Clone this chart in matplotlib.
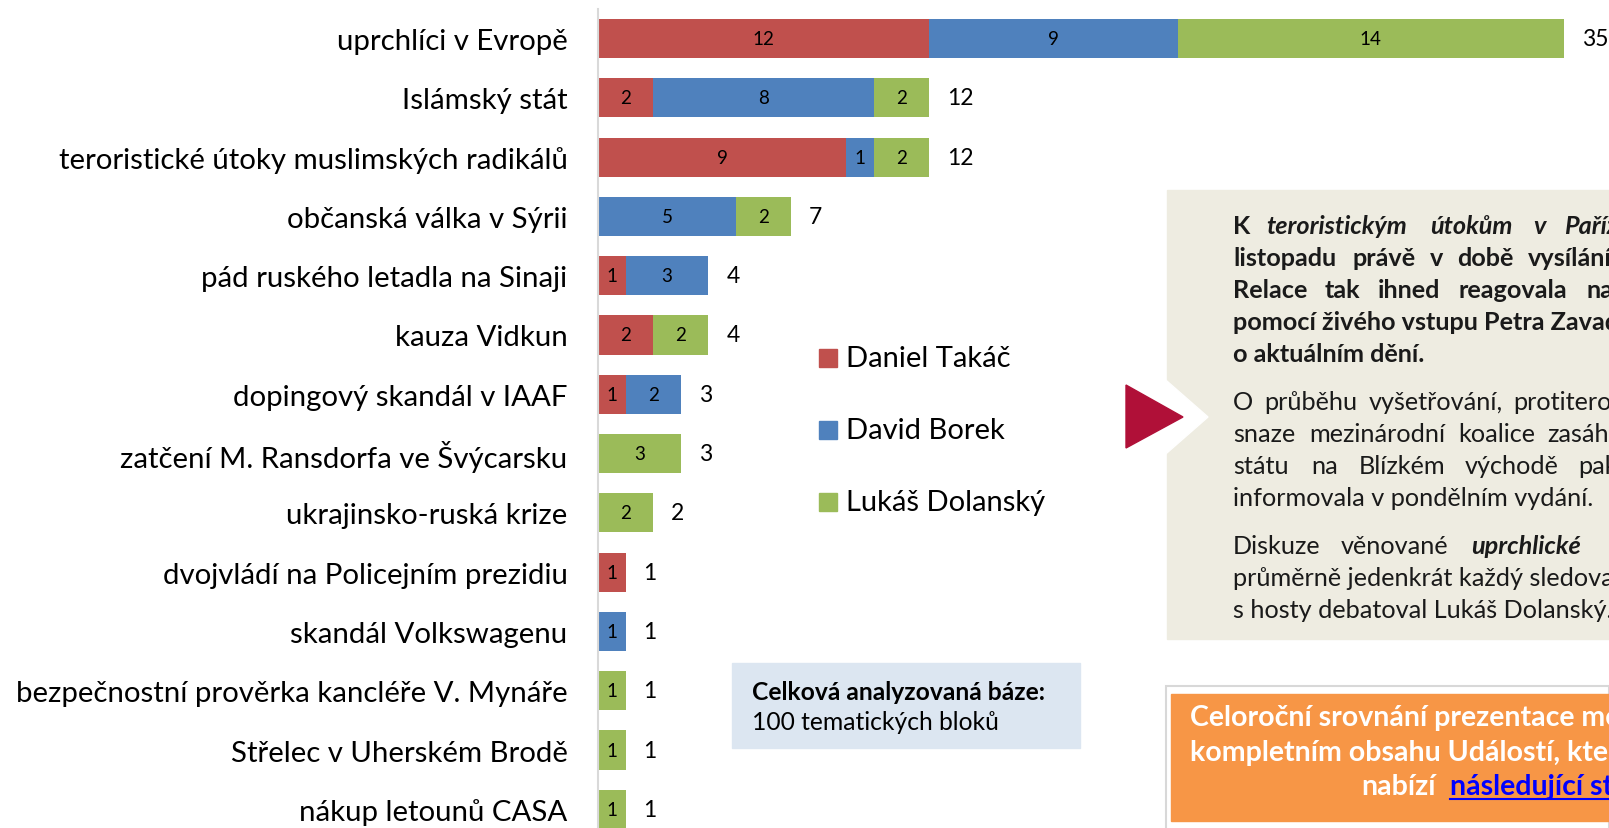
import matplotlib
matplotlib.use("Agg")
import matplotlib.pyplot as plt
from matplotlib.patches import Rectangle, Polygon
from matplotlib.lines import Line2D
import numpy as np

plt.rcParams['font.family'] = ['Lato', 'DejaVu Sans']

# data
topics = [
    "uprchlíci v Evropě",
    "Islámský stát",
    "teroristické útoky muslimských radikálů",
    "občanská válka v Sýrii",
    "pád ruského letadla na Sinaji",
    "kauza Vidkun",
    "dopingový skandál v IAAF",
    "zatčení M. Ransdorfa ve Švýcarsku",
    "ukrajinsko-ruská krize",
    "dvojvládí na Policejním prezidiu",
    "skandál Volkswagenu",
    "bezpečnostní prověrka kancléře V. Mynáře",
    "Střelec v Uherském Brodě",
    "nákup letounů CASA",
]
names = ["Daniel Takáč", "David Borek", "Lukáš Dolanský"]
takac = [12, 2, 9, 0, 1, 2, 1, 0, 0, 1, 0, 0, 0, 0]
borek = [9, 8, 1, 5, 3, 0, 2, 0, 0, 0, 1, 0, 0, 0]
dolansky = [14, 2, 2, 2, 0, 2, 0, 3, 2, 0, 0, 1, 1, 1]
colors = ["#C0504D", "#4F81BD", "#9BBB59"]

W, H = 1609, 829


def fx(x):
    return x / W


def fy(y):
    return 1 - y / H


fig = plt.figure(figsize=(W / 100, H / 100), dpi=100)

# chart area in pixels
ax_left, ax_top, ax_bottom = 598, 9.85, 840.0
ax = fig.add_axes([fx(ax_left), fy(ax_bottom), (W - ax_left) / W, (ax_bottom - ax_top) / H])
ax.patch.set_visible(False)

series = [takac, borek, dolansky]
ypos = np.arange(len(topics))
left = np.zeros(len(topics))
for vals, col in zip(series, colors):
    vals = np.array(vals)
    ax.barh(ypos, vals, left=left, height=0.66, color=col, zorder=2)
    for y, v, l in zip(ypos, vals, left):
        if v > 0:
            ax.text(l + v / 2, y, str(v), ha='center', va='center', fontsize=13.5, color='black', zorder=3)
    left = left + vals

totals = left
for y, t in zip(ypos, totals):
    ax.text(t + 0.65, y, str(int(t)), ha='left', va='center', fontsize=16.5, color='black')

ax.set_xlim(0, (W - ax_left) / 27.6)
ax.set_ylim(len(topics) - 0.5, -0.5)
ax.set_yticks(ypos)
ax.set_yticklabels(topics, fontsize=21.2)
ax.tick_params(axis='y', length=0, pad=22)
ax.set_xticks([])
for s in ['top', 'right', 'bottom']:
    ax.spines[s].set_visible(False)
ax.spines['left'].set_color('#D9D9D9')
ax.spines['left'].set_linewidth(1.5)

# legend
for i, (nm, col) in enumerate(zip(names, colors)):
    cy = 359 + i * 72
    fig.patches.append(Rectangle((fx(819), fy(cy + 9)), 18 / W, 18 / H, transform=fig.transFigure,
                                 color=col))
    fig.text(fx(846), fy(cy), nm, fontsize=21, va='center', ha='left')

# info box (base)
fig.patches.append(Rectangle((fx(732), fy(749)), 348 / W, 85 / H, transform=fig.transFigure,
                             color='#DCE6F1'))
fig.text(fx(752), fy(693), "Celková analyzovaná báze:", fontsize=17.7, fontweight='bold', va='center')
fig.text(fx(752), fy(723), "100 tematických bloků", fontsize=17.7, va='center')

# gray commentary box
fig.patches.append(Rectangle((fx(1167), fy(640)), (W - 1167) / W, 449 / H, transform=fig.transFigure,
                             color='#EEECE1'))
fig.patches.append(Polygon([(fx(1160), fy(376)), (fx(1160), fy(460)), (fx(1208), fy(418))],
                           closed=True, transform=fig.transFigure, color='white'))
fig.patches.append(Polygon([(fx(1126), fy(386)), (fx(1126), fy(449)), (fx(1183), fy(418))],
                           closed=True, transform=fig.transFigure, color='#B01038'))

fs_body = 18.2
lines = [
    (227, [(1233, "K", 'bold', 'normal'), (1266, "teroristickým", 'bold', 'italic'),
           (1430, "útokům", 'bold', 'italic'), (1533, "v", 'bold', 'italic'),
           (1564, "Paříži", 'bold', 'italic')]),
    (259, [(1233, "listopadu", 'bold', 'normal'), (1352, "právě", 'bold', 'normal'),
           (1430, "v", 'bold', 'normal'), (1457, "době", 'bold', 'normal'),
           (1528, "vysílání", 'bold', 'normal')]),
    (291, [(1233, "Relace", 'bold', 'normal'), (1325, "tak", 'bold', 'normal'),
           (1378, "ihned", 'bold', 'normal'), (1459, "reagovala", 'bold', 'normal'),
           (1587, "na", 'bold', 'normal')]),
    (323, [(1233, "pomocí živého vstupu Petra Zavadila", 'bold', 'normal')]),
    (355, [(1233, "o aktuálním dění.", 'bold', 'normal')]),
    (403, [(1233, "O", 'normal', 'normal'), (1264, "průběhu", 'normal', 'normal'),
           (1369, "vyšetřování,", 'normal', 'normal'), (1513, "protiteroristických", 'normal', 'normal')]),
    (435, [(1233, "snaze", 'normal', 'normal'), (1309, "mezinárodní", 'normal', 'normal'),
           (1458, "koalice", 'normal', 'normal'), (1547, "zasáhnout", 'normal', 'normal')]),
    (467, [(1233, "státu", 'normal', 'normal'), (1311, "na", 'normal', 'normal'),
           (1359, "Blízkém", 'normal', 'normal'), (1465, "východě", 'normal', 'normal'),
           (1578, "pak", 'normal', 'normal')]),
    (499, [(1233, "informovala v pondělním vydání.", 'normal', 'normal')]),
    (547, [(1233, "Diskuze", 'normal', 'normal'), (1341, "věnované", 'normal', 'normal'),
           (1471, "uprchlické", 'bold', 'italic'), (1607, "krizi", 'normal', 'normal')]),
    (579, [(1233, "průměrně jedenkrát každý sledovaný", 'normal', 'normal')]),
    (611, [(1233, "s hosty debatoval Lukáš Dolanský.", 'normal', 'normal')]),
]
for y, words in lines:
    for x, w, wt, st in words:
        fig.text(fx(x), fy(y), w, fontsize=fs_body, fontweight=wt, fontstyle=st, va='center', ha='left',
                 color='#1a1a1a')

# orange link box
fig.patches.append(Rectangle((fx(1166), fy(832)), (W - 1166) / W, 145 / H, transform=fig.transFigure,
                             facecolor='white', edgecolor='#D8D8D8', linewidth=1.5))
fig.patches.append(Rectangle((fx(1171), fy(822)), (W - 1171) / W, 127 / H, transform=fig.transFigure,
                             color='#F79646'))
fs_or = 20.5
fig.text(fx(1190), fy(718), "Celoroční srovnání prezentace médií v", fontsize=fs_or, fontweight='bold',
         color='white', va='center')
fig.text(fx(1190), fy(753), "kompletním obsahu Událostí, které", fontsize=fs_or, fontweight='bold',
         color='white', va='center')
fig.text(fx(1361), fy(787), "nabízí", fontsize=fs_or, fontweight='bold', color='white', va='center')
fig.text(fx(1450), fy(787), "následující strana", fontsize=fs_or, fontweight='bold', color='#0000FF',
         va='center')
fig.add_artist(Line2D([fx(1450), fx(W)], [fy(800), fy(800)], transform=fig.transFigure,
                      color='#0000FF', linewidth=1.5))

fig.savefig("out.png", dpi=100)
